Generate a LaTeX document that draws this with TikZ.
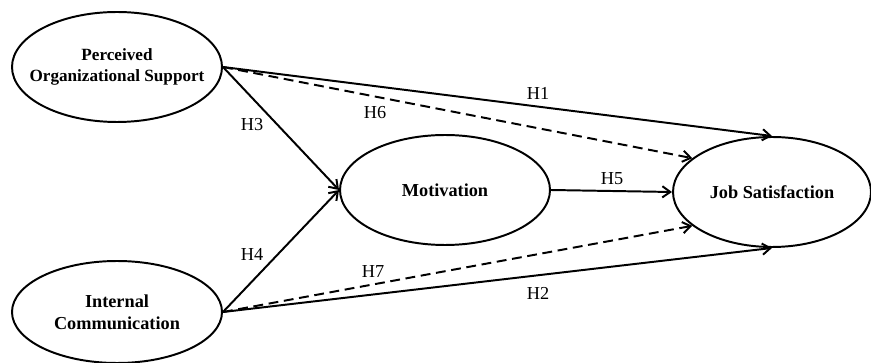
\documentclass[tikz,border=0pt]{standalone}
\usepackage{fontspec}
\setmainfont{Liberation Serif}
\usepackage{tikz}
\usetikzlibrary{arrows.meta,shapes.geometric}

\begin{document}
\begin{tikzpicture}[font=\fontsize{13}{15.5}\selectfont,
  lv/.style={ellipse,draw,line width=1.4pt,inner sep=0pt,minimum width=5.25cm,minimum height=2.75cm},
  txt/.style={align=center,font=\fontsize{13}{15.5}\selectfont\bfseries},
  hyp/.style={-{Straight Barb[length=2mm,width=2.8mm]},line width=1.4pt},
  med/.style={hyp,dash pattern=on 7pt off 4pt},
  lab/.style={inner sep=1pt}]
  \useasboundingbox (0,0) rectangle (21.775,-9.075);
  \node[lv,label={[txt,font=\fontsize{12.2}{15.5}\selectfont\bfseries]center:Perceived\\Organizational Support}] (pos) at (2.925,-1.675) {};
  \node[lv,minimum height=2.55cm,label={[txt]center:Internal\\Communication}] (ic) at (2.925,-7.8) {};
  \node[lv,label={[txt]center:Motivation}] (mot) at (11.125,-4.75) {};
  \node[lv,minimum width=4.95cm,label={[txt]center:Job Satisfaction}] (js) at (19.3,-4.8) {};
  \draw[hyp] (pos.east) -- (js.north);
  \draw[hyp] (ic.east) -- (js.south);
  \draw[hyp] (pos.east) -- (mot.west);
  \draw[hyp] (ic.east) -- (mot.west);
  \draw[hyp] (mot.east) -- (js.west);
  \draw[med] (pos.east) -- (js.157);
  \draw[med] (ic.east) -- (js.203);
  \node[lab] (h1) at (13.45,-2.325) {H1};
  \node[lab] (h2) at (13.45,-7.325) {H2};
  \node[lab] (h3) at (6.3,-3.125) {H3};
  \node[lab] (h4) at (6.3,-6.35) {H4};
  \node[lab] (h5) at (15.3,-4.475) {H5};
  \node[lab] (h6) at (9.375,-2.825) {H6};
  \node[lab] (h7) at (9.325,-6.8) {H7};
\end{tikzpicture}
\end{document}
